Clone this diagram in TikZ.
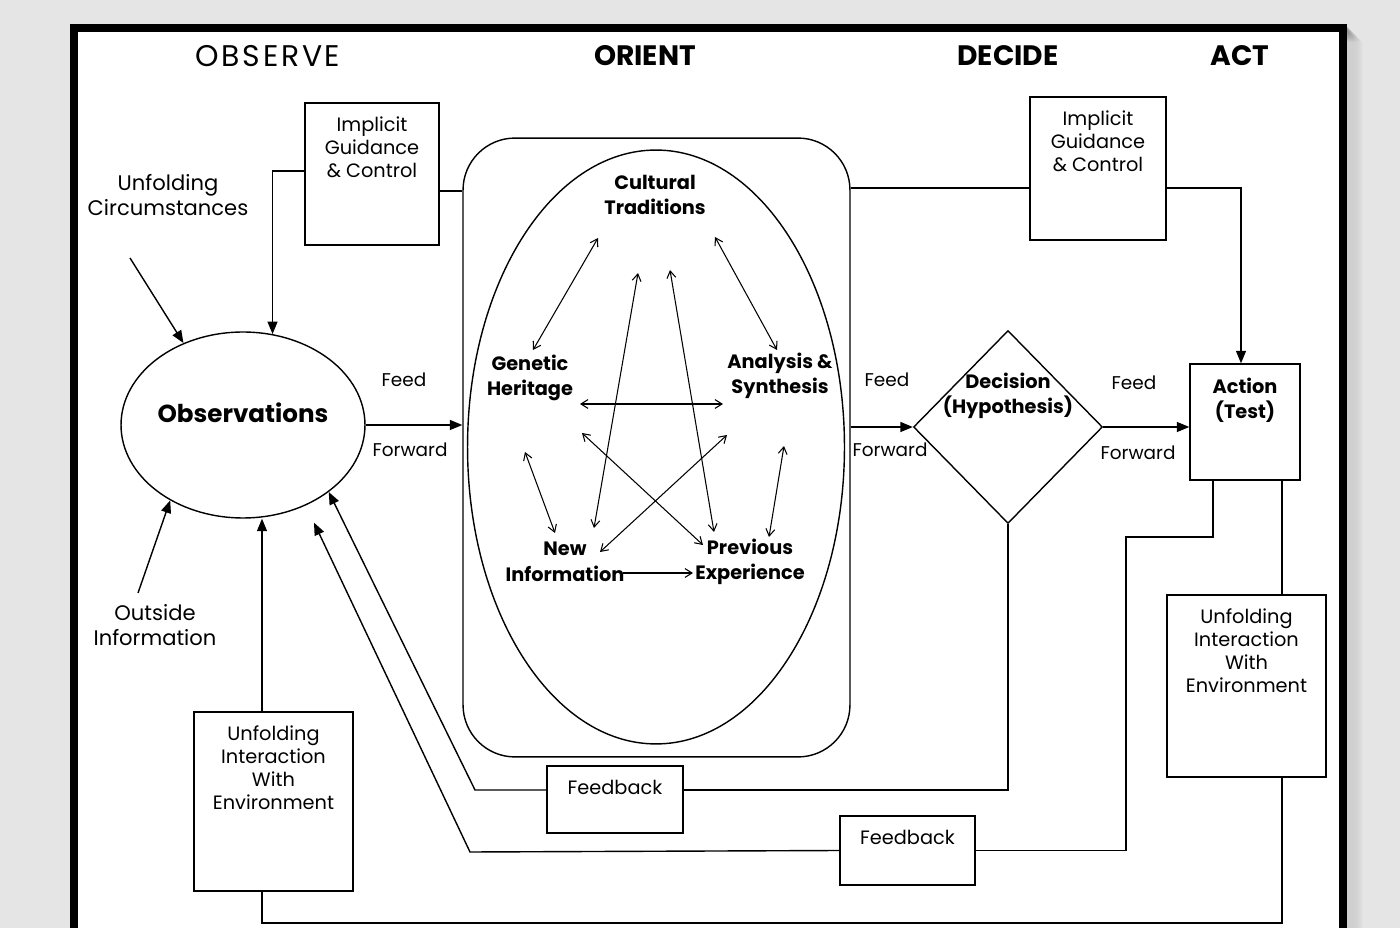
\documentclass[tikz,border=0pt]{standalone}
\usepackage{fontspec}
\setmainfont{Poppins}
\usetikzlibrary{shapes.geometric,arrows.meta}
\definecolor{pagegray}{RGB}{229,229,229}

\begin{document}
\begin{tikzpicture}[x=0.02cm,y=-0.02cm,line width=0.8pt,
  box/.style={draw,rectangle,inner sep=0pt},
  boxtxt/.style={anchor=north,align=center,inner sep=0pt,yshift=-0.28cm,
    font=\fontsize{11}{13}\selectfont},
  title/.style={font=\fontsize{17}{19}\selectfont\addfontfeature{LetterSpace=9}},
  btitle/.style={font=\fontsize{16}{19}\selectfont\bfseries},
  txt/.style={align=center,font=\fontsize{12}{14.2}\selectfont},
  fftxt/.style={font=\fontsize{10.5}{12}\selectfont},
  boldtxt/.style={align=center,font=\fontsize{11}{14.5}\selectfont\bfseries},
  arr/.style={-{Triangle[length=0.25cm,width=0.2cm]}},
  dbl/.style={{Straight Barb[length=4pt,width=5pt]}-{Straight Barb[length=4pt,width=5pt]},line width=0.6pt},
  sgl/.style={-{Straight Barb[length=4pt,width=5pt]},line width=0.6pt}]
  \useasboundingbox (0,0) rectangle (1400,928);
  \clip (0,0) rectangle (1400,928);
  \fill[pagegray] (0,0) rectangle (1400,928);
  \foreach \d in {1,...,16}
    \fill[black!\the\numexpr 3*(17-\d)\relax!pagegray,opacity=0.35] (1343,26+\d) rectangle (1347+\d,928);
  \draw[line width=0.16cm,fill=white] (74,28) rectangle (1343,960);

  \node[title] (obstitle) at (268,56) {OBSERVE};
  \node[btitle] (orititle) at (645,56) {ORIENT};
  \node[btitle] (dectitle) at (1008,56) {DECIDE};
  \node[btitle] (acttitle) at (1240,56) {ACT};

  \node[box,minimum width=2.68cm,minimum height=2.84cm,
    label={[boxtxt]north:{Implicit\\Guidance\\\& Control}}] (igl) at (372,174) {};
  \node[box,minimum width=2.72cm,minimum height=2.86cm,
    label={[boxtxt]north:{Implicit\\Guidance\\\& Control}}] (igr) at (1098,168.5) {};
  \node[draw,ellipse,inner sep=0pt,minimum width=4.88cm,minimum height=3.72cm,
    label={[font=\fontsize{14}{16}\selectfont\bfseries,yshift=0.24cm]center:Observations}] (obs) at (243,425) {};
  \node[draw,rectangle,rounded corners=1.04cm,inner sep=0pt,
    minimum width=7.74cm,minimum height=12.38cm] (ori) at (656.5,447.5) {};
  \node[draw,ellipse,inner sep=0pt,minimum width=7.54cm,minimum height=11.88cm] (lens) at (656,447) {};
  \node[draw,diamond,inner sep=0pt,minimum width=3.78cm,minimum height=3.86cm,
    label={[boldtxt,yshift=0.62cm]center:{Decision\\(Hypothesis)}}] (dec) at (1008,427) {};
  \node[box,minimum width=2.2cm,minimum height=2.32cm,
    label={[boxtxt,boldtxt]north:{Action\\(Test)}}] (act) at (1245,422) {};
  \node[box,minimum width=3.18cm,minimum height=3.58cm,
    label={[boxtxt]north:{Unfolding\\Interaction\\With\\Environment}}] (uil) at (273.5,801.5) {};
  \node[box,minimum width=3.18cm,minimum height=3.64cm,
    label={[boxtxt]north:{Unfolding\\Interaction\\With\\Environment}}] (uir) at (1246.5,686) {};
  \node[box,minimum width=2.72cm,minimum height=1.34cm,
    label={[boxtxt]north:Feedback}] (fb1) at (615,799.5) {};
  \node[box,minimum width=2.7cm,minimum height=1.38cm,
    label={[boxtxt]north:Feedback}] (fb2) at (907.5,850.5) {};

  \node[txt] (circ) at (168,195) {Unfolding\\Circumstances};
  \node[txt] (outinfo) at (155,625) {Outside\\Information};
  \node[fftxt] (feed1) at (404,380) {Feed};
  \node[fftxt] (fwd1) at (410,450) {Forward};
  \node[fftxt] (feed2) at (887,380) {Feed};
  \node[fftxt] (fwd2) at (890,450) {Forward};
  \node[fftxt] (feed3) at (1134,383) {Feed};
  \node[fftxt] (fwd3) at (1138,453) {Forward};

  \node[boldtxt] (ct) at (655,195) {Cultural\\Traditions};
  \node[boldtxt] (gh) at (530,378) {Genetic\\Heritage};
  \node[boldtxt] (ans) at (780,376) {Analysis \&\\Synthesis};
  \node[boldtxt] (ni) at (565,562) {New\\Information};
  \node[boldtxt] (pe) at (750,562) {Previous\\Experience};

  \coordinate (uc) at (130,258);
  \coordinate (oi) at (138,593);
  \coordinate (fbk1) at (475,790);
  \coordinate (fbk2) at (470,852);
  \coordinate (actbend) at (1126,537);
  \coordinate (botr) at (1282,923);

  \draw[arr] (uc) -- (obs.126);
  \draw[arr] (oi) -- (obs.226);
  \draw[arr] (igl.west |- 0,171) -| (obs.72);
  \draw (igl.east |- 0,191) -- (ori.west |- 0,191);
  \draw (ori.east |- 0,188) -- (igr.west |- 0,188);
  \draw[arr] (igr.east |- 0,188) -| (act.north -| 1241,0);
  \draw[arr] (obs.east) -- (ori.west |- obs.east);
  \draw[arr] (ori.east |- dec.west) -- (dec.west);
  \draw[arr] (dec.east) -- (act.west |- dec.east);
  \draw (dec.south) |- (fb1.east |- fbk1);
  \draw[arr] (fb1.west |- fbk1) -- (fbk1) -- (obs.322);
  \draw (act.south -| 1213,0) |- (actbend) |- (fb2.east);
  \draw[arr,shorten >=0.38cm] (fb2.west) -- (fbk2) -- (obs.308);
  \draw[arr] (uil.north -| 262,0) -- (obs.south -| 262,0);
  \draw (uil.south -| 262,0) |- (botr) -- (uir.south -| botr);
  \draw (act.south -| botr) -- (uir.north -| botr);

  \coordinate (ctL) at (598,238);  \coordinate (ctM1) at (638,273);
  \coordinate (ctM2) at (670,270); \coordinate (ctR) at (715,237);
  \coordinate (ghT) at (533,350);  \coordinate (ghR) at (580,404);
  \coordinate (ghB) at (582,433);  \coordinate (ghBL) at (525,452);
  \coordinate (ansL) at (723,404); \coordinate (ansT) at (777,350);
  \coordinate (ansB) at (727,435); \coordinate (ansBR) at (784,446);
  \coordinate (niT) at (555,533);  \coordinate (niR) at (600,552);
  \coordinate (niM) at (594,528);  \coordinate (niE) at (623,573);
  \coordinate (peT) at (769,537);  \coordinate (peL) at (703,545);
  \coordinate (peM) at (714,532);  \coordinate (peW) at (693,573);
  \foreach \a/\b in {ctL/ghT,ctR/ansT,ghR/ansL,ctM1/niM,ctM2/peM,
                     ghB/peL,ansB/niR,ghBL/niT,ansBR/peT}
    \draw[dbl] (\a) -- (\b);
  \draw[sgl] (niE) -- (peW);
\end{tikzpicture}
\end{document}
